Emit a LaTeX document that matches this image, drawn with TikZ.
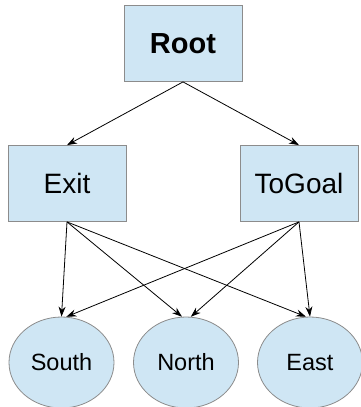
\documentclass[tikz,border=0pt]{standalone}
\usepackage{fontspec}
\setmainfont{Liberation Sans}
\usetikzlibrary{positioning, arrows.meta, shapes.geometric}

\definecolor{boxfill}{RGB}{207,230,244}
\definecolor{boxline}{RGB}{140,140,140}

\begin{document}
\begin{tikzpicture}[
    x=1pt, y=-1pt,
    every node/.style={inner sep=0pt, align=center},
    option/.style={rectangle, fill=boxfill, draw=boxline, line width=0.8pt, minimum width=118pt, minimum height=76pt, font=\fontsize{28}{32}\selectfont},
    action/.style={ellipse, fill=boxfill, draw=boxline, line width=0.8pt, minimum width=105pt, minimum height=91pt, font=\fontsize{23.5}{27}\selectfont},
    arrow/.style={-{Stealth[length=10pt, width=7pt]}, line width=0.8pt}
]
\useasboundingbox (0,0) rectangle (361,407);

% Top level
\node[option, font=\fontsize{29}{33}\selectfont\bfseries] (Root) at (183,43.5) {Root};

% Options
\node[option] (Exit) at (67,183.5) {Exit};
\node[option] (ToGoal) at (299,183.5) {ToGoal};

% Primitive actions
\node[action] (South) at (61.5,362.5) {South};
\node[action] (North) at (186,362.5) {North};
\node[action] (East) at (310,362.5) {East};

% Root arrows
\draw[arrow] (Root.south) -- (Exit.north);
\draw[arrow] (Root.south) -- (ToGoal.north);

% Exit arrows
\draw[arrow] (Exit.south) -- (South.north);
\draw[arrow] (Exit.south) -- (North.95);
\draw[arrow] (Exit.south) -- (East.95);

% ToGoal arrows
\draw[arrow] (ToGoal.south) -- (South.84);
\draw[arrow] (ToGoal.south) -- (North.84);
\draw[arrow] (ToGoal.south) -- (East.north);

\end{tikzpicture}
\end{document}
